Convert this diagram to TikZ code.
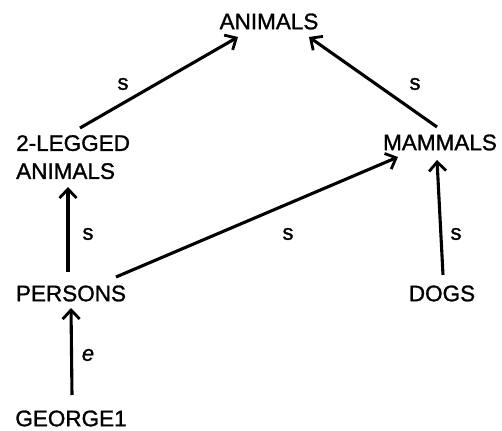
\documentclass[tikz,border=0pt]{standalone}
\usepackage{fontspec}
\setmainfont{Liberation Sans}[FakeBold=1.2]
\usetikzlibrary{arrows.meta}
\begin{document}
\begin{tikzpicture}[x=1pt,y=1pt,
  concept/.style={inner sep=0pt,font=\fontsize{22.5}{28}\selectfont},
  lbl/.style={inner sep=0pt,font=\fontsize{22}{26}\selectfont},
  arr/.style={line width=3.1pt,-{Straight Barb[length=9pt,width=17pt,line width=2.8pt]}}]
\useasboundingbox (0,0) rectangle (502,430);
\node[concept] (animals) at (269,408.5) {ANIMALS};
\node[concept,anchor=north west,align=left] (twoleg) at (16,295) {2-LEGGED\\ANIMALS};
\node[concept] (mammals) at (440,287.5) {MAMMALS};
\node[concept] (persons) at (71,136.5) {PERSONS};
\node[concept] (dogs) at (442,136.5) {DOGS};
\node[concept] (george) at (71,11.5) {GEORGE1};

\draw[arr] ([shift={(64,7)}]twoleg.north west) -- ([shift={(-31,-15.5)}]animals.center);
\draw[arr] ([shift={(-3,15.5)}]mammals.center) -- ([shift={(40,-15.5)}]animals.center);
\draw[arr] ([shift={(-3,21.5)}]persons.center) -- ([shift={(52,-52)}]twoleg.north west);
\draw[arr] ([shift={(45,16.5)}]persons.center) -- ([shift={(-42,-14.5)}]mammals.center);
\draw[arr] ([shift={(1,18.5)}]dogs.center) -- ([shift={(-3,-17.5)}]mammals.center);
\draw[arr] ([shift={(1,23.5)}]george.center) -- ([shift={(0,-14.5)}]persons.center);

\node[lbl] (l1) at (123,346) {s};
\node[lbl] (l2) at (415,346) {s};
\node[lbl] (l3) at (88,196) {s};
\node[lbl] (l4) at (288,196) {s};
\node[lbl] (l5) at (456,196) {s};
\node[lbl,font=\fontsize{22}{26}\selectfont\itshape] (l6) at (88,75) {e};
\end{tikzpicture}
\end{document}
